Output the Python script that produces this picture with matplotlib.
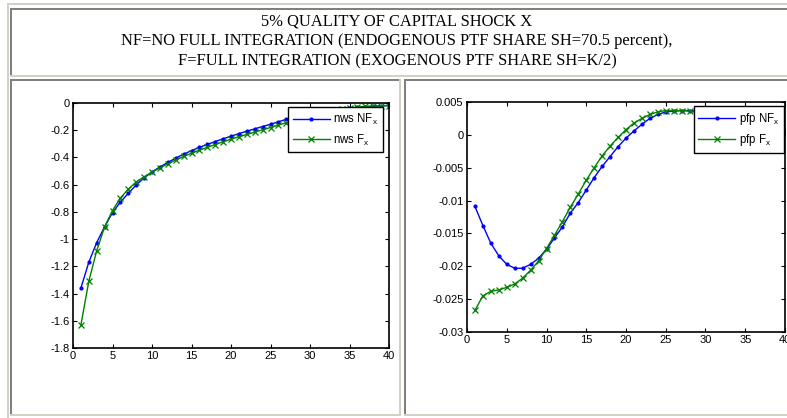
import matplotlib
matplotlib.use("Agg")
import matplotlib.pyplot as plt
from matplotlib.patches import Rectangle
import numpy as np

plt.rcParams['font.family'] = ['Liberation Sans', 'DejaVu Sans']
plt.rcParams['axes.unicode_minus'] = False
plt.rcParams['mathtext.default'] = 'regular'

# --- data ---
periods = np.arange(1, 41)

nws_nf = [-1.36, -1.17, -1.025, -0.91, -0.805, -0.728, -0.664, -0.602, -0.550, -0.507,
          -0.470, -0.437, -0.405, -0.376, -0.350, -0.326, -0.304, -0.283, -0.263, -0.244,
          -0.225, -0.207, -0.190, -0.173, -0.156, -0.138, -0.120, -0.107, -0.095, -0.084,
          -0.073, -0.063, -0.054, -0.046, -0.039, -0.033, -0.028, -0.024, -0.021, -0.019]
nws_f = [-1.63, -1.31, -1.085, -0.91, -0.79, -0.698, -0.633, -0.580, -0.542, -0.508,
         -0.476, -0.447, -0.419, -0.393, -0.369, -0.347, -0.326, -0.305, -0.285, -0.266,
         -0.248, -0.231, -0.214, -0.197, -0.180, -0.162, -0.145, -0.128, -0.112, -0.097,
         -0.083, -0.070, -0.058, -0.047, -0.038, -0.030, -0.025, -0.022, -0.020, -0.019]

pfp_nf = [-0.0109, -0.0138, -0.0165, -0.0184, -0.0197, -0.0203, -0.0203, -0.0197, -0.0188, -0.0174,
          -0.0157, -0.0140, -0.0119, -0.0103, -0.0084, -0.0065, -0.0048, -0.0033, -0.0018, -0.0005,
          0.0006, 0.0016, 0.0025, 0.0031, 0.0035, 0.0036, 0.0037, 0.0037, 0.0036, 0.0034,
          0.0031, 0.0028, 0.0024, 0.0020, 0.0017, 0.0013, 0.0010, 0.0008, 0.0006, 0.0004]
pfp_f = [-0.0267, -0.0245, -0.0238, -0.0236, -0.0232, -0.0227, -0.0218, -0.0206, -0.0192, -0.0173,
         -0.0153, -0.0132, -0.0110, -0.0090, -0.0069, -0.0050, -0.0032, -0.0017, -0.0004, 0.0008,
         0.0018, 0.0025, 0.0031, 0.0035, 0.0037, 0.0037, 0.0037, 0.0036, 0.0034, 0.0031,
         0.0027, 0.0023, 0.0019, 0.0015, 0.0011, 0.0008, 0.0005, 0.0003, 0.0001, 0.0000]

x_ticks = [0, 5, 10, 15, 20, 25, 30, 35, 40]
nws_ticks = [0, -0.2, -0.4, -0.6, -0.8, -1, -1.2, -1.4, -1.6, -1.8]
nws_labels = ['0', '-0.2', '-0.4', '-0.6', '-0.8', '-1', '-1.2', '-1.4', '-1.6', '-1.8']
pfp_ticks = [0.005, 0, -0.005, -0.01, -0.015, -0.02, -0.025, -0.03]
pfp_labels = ['0.005', '0', '-0.005', '-0.01', '-0.015', '-0.02', '-0.025', '-0.03']

title_lines = ['5% QUALITY OF CAPITAL SHOCK X',
               'NF=NO FULL INTEGRATION (ENDOGENOUS PTF SHARE SH=70.5 percent),',
               'F=FULL INTEGRATION (EXOGENOUS PTF SHARE SH=K/2)']

W, H = 787, 418
fig = plt.figure(figsize=(W / 100, H / 100), dpi=100)
fig.patch.set_facecolor('white')

# page / table background drawn in pixel coordinates
bg = fig.add_axes([0, 0, 1, 1], zorder=0)
bg.set_xlim(0, W)
bg.set_ylim(H, 0)
bg.axis('off')
beige = '#d4d0c8'
grey = '#808080'
borders = [
    (7, 3, 780, 2, beige), (7, 3, 2, 415, beige),           # outer table
    (10, 8, 777, 2, grey), (10, 8, 2, 69, grey), (10, 75, 777, 2, beige),  # header cell
    (10, 79, 390, 2, grey), (10, 79, 2, 337, grey),
    (399, 79, 2, 337, beige), (10, 414, 391, 2, beige),     # left cell
    (404, 79, 383, 2, grey), (404, 79, 2, 337, grey), (404, 414, 383, 2, beige),  # right cell
]
for bx, by, bw, bh, c in borders:
    bg.add_patch(Rectangle((bx, by), bw, bh, color=c, lw=0))

for i, line in enumerate(title_lines):
    bg.text(397, 21.5 + 19.7 * i, line, ha='center', va='center',
            fontsize=11.9, family=['Liberation Serif', 'DejaVu Serif'])


def make_axes(rect, y1, y2, lab1, lab2, yticks, ylabels, ylim, leg_anchor):
    ax = fig.add_axes(rect, zorder=2)
    ax.plot(periods, y1, color='#0000ff', marker='.', markersize=4, lw=1, label=lab1)
    ax.plot(periods, y2, color='#008000', marker='x', markersize=4.5, mew=0.9, lw=1, label=lab2)
    ax.set_xlim(0, 40)
    ax.set_ylim(*ylim)
    ax.set_xticks(x_ticks)
    ax.set_yticks(yticks)
    ax.set_yticklabels(ylabels)
    ax.tick_params(direction='in', top=True, right=True, length=3, width=0.8,
                   labelsize=8, pad=2.5)
    for s in ax.spines.values():
        s.set_linewidth(1.2)
    leg = ax.legend(loc='upper right', bbox_to_anchor=leg_anchor,
                    bbox_transform=fig.transFigure, borderaxespad=0,
                    fontsize=8.3, fancybox=False, framealpha=1, edgecolor='black',
                    handlelength=3.2, handletextpad=0.3, labelspacing=0.5,
                    borderpad=0.4, numpoints=1)
    leg.get_frame().set_linewidth(1.0)
    return ax


make_axes([73 / W, 1 - 348 / H, 316 / W, 245 / H], nws_nf, nws_f,
          'nws NF$_x$', 'nws F$_x$', nws_ticks, nws_labels, (-1.8, 0),
          (383 / W, 1 - 107 / H))
make_axes([467 / W, 1 - 332 / H, 318 / W, 230 / H], pfp_nf, pfp_f,
          'pfp NF$_x$', 'pfp F$_x$', pfp_ticks, pfp_labels, (-0.03, 0.005),
          (784 / W, 1 - 106 / H))

fig.savefig('out.png', dpi=100)
